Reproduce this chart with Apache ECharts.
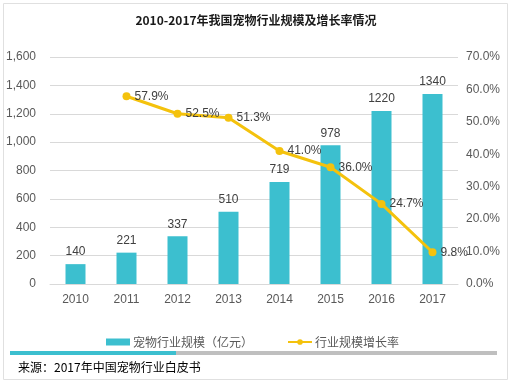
<!DOCTYPE html>
<html><head><meta charset="utf-8">
<script src="https://cdn.jsdelivr.net/npm/echarts@6/dist/echarts.min.js"></script>
<style>html,body{margin:0;padding:0;background:#fff}#c{width:512px;height:384px}</style>
</head><body><div id="c"></div>
<script>
var categories = ['2010','2011','2012','2013','2014','2015','2016','2017'];
var scaleValues = [140,221,337,510,719,978,1220,1340];
var growthRates = [null,57.9,52.5,51.3,41.0,36.0,24.7,9.8];
var leftTicks = [0,200,400,600,800,1000,1200,1400,1600];
var rightTicks = [0,10,20,30,40,50,60,70];

var font = '"Microsoft YaHei","Noto Sans CJK SC",Arial,sans-serif';
var chart = echarts.init(document.getElementById('c'));
chart.setOption({
  animation:false,
  textStyle:{fontFamily:font},
  title:{text:'2010-2017年我国宠物行业规模及增长率情况',left:'center',top:9,
    textStyle:{fontSize:12,fontWeight:'bold',color:'#1a1a1a',fontFamily:'"Noto Sans CJK SC",sans-serif'}},
  legend:{left:101,bottom:31,itemGap:34,itemWidth:24,itemHeight:7,
    textStyle:{fontSize:12,color:'#595959',padding:[0,0,0,-2],fontFamily:'"Noto Sans CJK SC",sans-serif'},
    data:[{name:'宠物行业规模（亿元）',icon:'rect'},{name:'行业规模增长率'}]},
  grid:{left:50,right:54,top:57,bottom:100},
  xAxis:{type:'category',data:categories,
    axisLine:{show:true,lineStyle:{color:'#d9d9d9'}},axisTick:{show:false},
    axisLabel:{color:'#595959',fontSize:12,margin:10,fontFamily:'Arial,"Liberation Sans",sans-serif'}},
  yAxis:[{type:'value',min:leftTicks[0],max:leftTicks[leftTicks.length-1],interval:200,
    axisLine:{show:false},axisTick:{show:false},
    splitLine:{lineStyle:{color:'#d9d9d9'}},
    axisLabel:{color:'#595959',fontSize:12,margin:14,fontFamily:'Arial,"Liberation Sans",sans-serif',
      formatter:function(v){return v.toLocaleString('en-US');}}},
    {type:'value',min:rightTicks[0],max:rightTicks[rightTicks.length-1],interval:10,
    axisLine:{show:false},axisTick:{show:false},splitLine:{show:false},
    axisLabel:{color:'#595959',fontSize:12,margin:8,fontFamily:'Arial,"Liberation Sans",sans-serif',
      formatter:function(v){return v.toFixed(1)+'%';}}}],
  series:[{name:'宠物行业规模（亿元）',type:'bar',data:scaleValues,barWidth:20,
    itemStyle:{color:'#3cbfcf'},
    label:{show:true,position:'top',color:'#404040',fontSize:12,distance:6,fontFamily:'Arial,"Liberation Sans",sans-serif'}},
    {name:'行业规模增长率',type:'line',yAxisIndex:1,data:growthRates,
    symbol:'circle',symbolSize:8,lineStyle:{width:3,color:'#f4c20d'},itemStyle:{color:'#f4c20d'},
    label:{show:true,position:'right',distance:4,color:'#404040',fontSize:12,fontFamily:'Arial,"Liberation Sans",sans-serif',
      formatter:function(p){return p.value.toFixed(1)+'%';}}}],
  graphic:[
    {type:'rect',shape:{x:3.5,y:3.5,width:504,height:376},style:{fill:'none',stroke:'#e0e0e0',lineWidth:1}},
    {type:'rect',shape:{x:10,y:351,width:166,height:4},style:{fill:'#3cbfcf'}},
    {type:'rect',shape:{x:176,y:351,width:321,height:4},style:{fill:'#bfbfbf'}},
    {type:'text',left:18,top:361,style:{text:'来源：2017年中国宠物行业白皮书',fill:'#000',
      font:'12px "Noto Sans CJK SC",sans-serif'}}
  ]
});
</script></body></html>
